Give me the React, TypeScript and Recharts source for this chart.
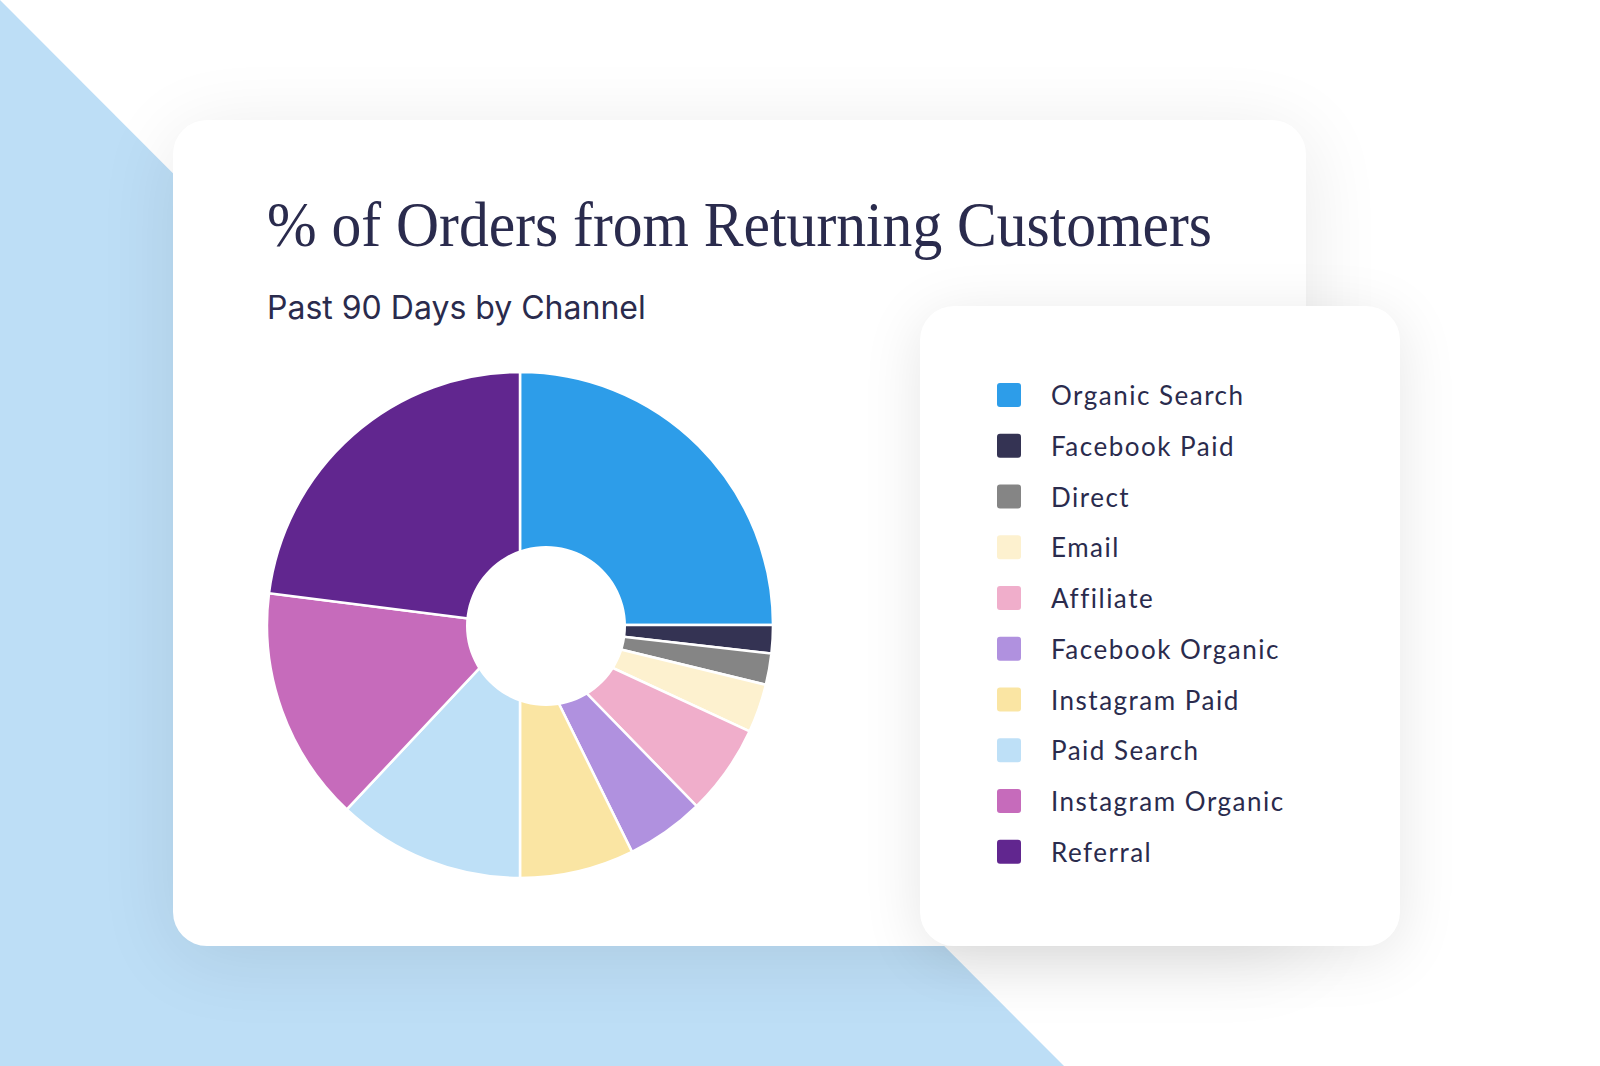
import { PieChart, Pie, Cell } from 'recharts';

const channels = [
  'Organic Search',
  'Facebook Paid',
  'Direct',
  'Email',
  'Affiliate',
  'Facebook Organic',
  'Instagram Paid',
  'Paid Search',
  'Instagram Organic',
  'Referral',
];
const shares = [25, 1.8, 2, 3.1, 5.8, 5, 7.3, 12, 15, 23];
const colors = [
  '#2d9de9',
  '#343353',
  '#858585',
  '#fdf1cf',
  '#f0aecb',
  '#b091df',
  '#fae5a3',
  '#bee0f7',
  '#c66bbb',
  '#61268f',
];
const title = '% of Orders from Returning Customers';
const subtitle = 'Past 90 Days by Channel';

const ink = '#2a2b4d';

export default function App() {
  const data = channels.map((name, i) => ({ name, value: shares[i] }));
  const hole = [{ name: 'hole', value: 1 }];

  return (
    <div style={{ position: 'absolute', left: 0, top: 0, width: 1600, height: 1066, overflow: 'hidden', background: '#ffffff' }}>
      {/* blue diagonal backdrop */}
      <div
        style={{
          position: 'absolute', left: 0, top: 0, width: 1600, height: 1066,
          background: '#bddef6', clipPath: 'polygon(0 0, 1064px 1066px, 0 1066px)',
        }}
      />

      {/* main card */}
      <div
        style={{
          position: 'absolute', left: 173, top: 120, width: 1133, height: 826,
          background: '#fff', borderRadius: 34, boxShadow: '0 12px 80px rgba(0,0,0,0.09)',
        }}
      />
      <svg width={1600} height={340} style={{ position: 'absolute', left: 0, top: 0 }}>
        <text
          x={267}
          y={246}
          fontFamily="'Liberation Serif', serif"
          fontSize={63}
          fill={ink}
          textLength={945}
          lengthAdjust="spacingAndGlyphs"
        >
          {title}
        </text>
        <text x={267} y={319} fontFamily="Inter, sans-serif" fontSize={32} fill={ink}>
          {subtitle}
        </text>
      </svg>

      <div style={{ position: 'absolute', left: 236, top: 341 }}>
        <PieChart width={570} height={570} margin={{ top: 0, right: 0, bottom: 0, left: 0 }}>
          <Pie
            data={data}
            dataKey="value"
            nameKey="name"
            cx={284}
            cy={284}
            innerRadius={0}
            outerRadius={253}
            startAngle={90}
            endAngle={-270}
            stroke="#ffffff"
            strokeWidth={2.5}
            isAnimationActive={false}
          >
            {data.map((d, i) => (
              <Cell key={d.name} fill={colors[i]} />
            ))}
          </Pie>
          <Pie
            data={hole}
            dataKey="value"
            cx={310}
            cy={285}
            innerRadius={0}
            outerRadius={80}
            fill="#ffffff"
            stroke="none"
            isAnimationActive={false}
          />
        </PieChart>
      </div>

      {/* legend card */}
      <div
        style={{
          position: 'absolute', left: 920, top: 306, width: 480, height: 640,
          background: '#fff', borderRadius: 34, boxShadow: '0 10px 60px rgba(0,0,0,0.10)',
        }}
      >
        <svg width={480} height={640}>
          {channels.map((name, i) => {
            const cy = 89 + i * 50.75;
            return (
              <g key={name}>
                <rect x={77} y={cy - 12} width={24} height={24} rx={3} fill={colors[i]} />
                <text x={131} y={cy + 10} fontFamily="Lato, sans-serif" fontSize={26} letterSpacing={1.5} fill={ink}>
                  {name}
                </text>
              </g>
            );
          })}
        </svg>
      </div>
    </div>
  );
}
